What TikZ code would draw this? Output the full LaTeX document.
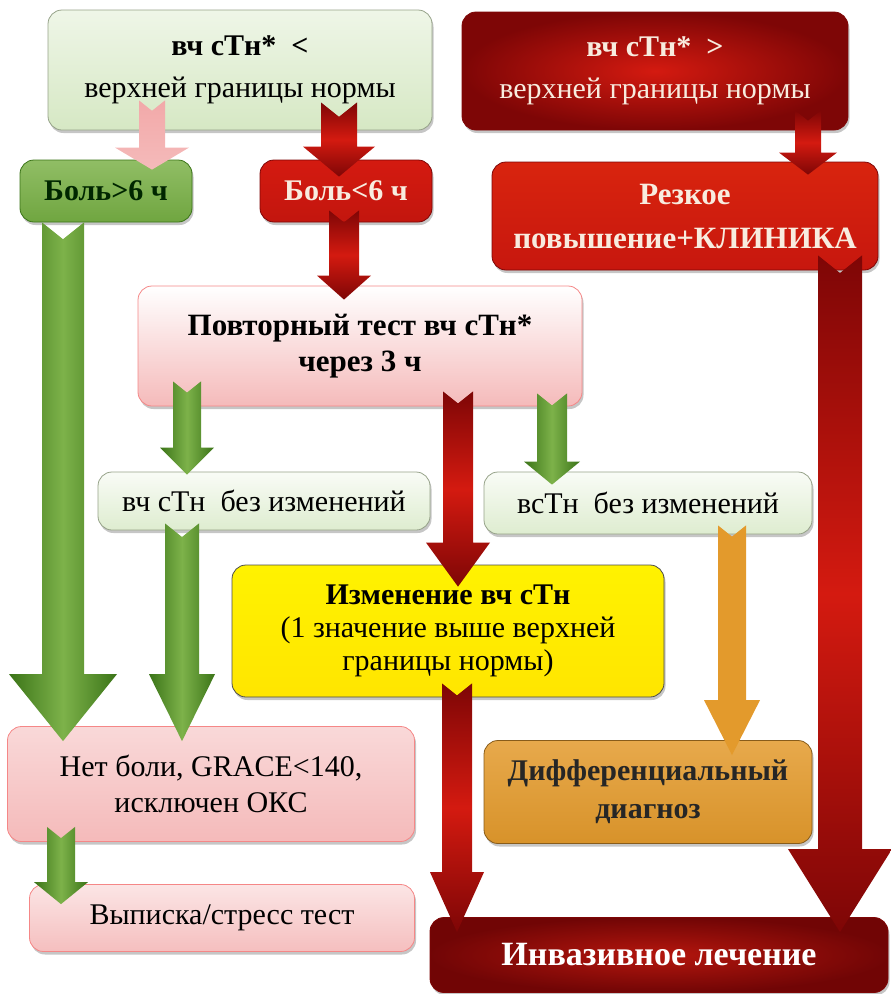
\documentclass[tikz,border=0pt]{standalone}
\usepackage{fontspec}
\setmainfont{Liberation Serif}
\usetikzlibrary{calc}
\usetikzlibrary{shadows}

\definecolor{grnD}{HTML}{3B7418}
\definecolor{grnL}{HTML}{7DB24A}
\definecolor{grnP}{HTML}{D6E8C4}
\definecolor{redD}{HTML}{7E0606}
\definecolor{redM}{HTML}{D41A10}
\definecolor{pinkA}{HTML}{F2A9A9}
\definecolor{orng}{HTML}{E39A2C}
\definecolor{cream}{HTML}{F8ECDF}

\tikzset{
  box/.style={rounded corners=14pt, inner sep=0pt, align=center,
    draw=#1, line width=0.8pt,
    drop shadow={shadow xshift=1.5pt, shadow yshift=-3pt, opacity=0.45},
    font=\fontsize{30}{36}\selectfont},
  fat/.style n args={4}{#4, to path={let \p1=(\tikztostart), \p2=(\tikztotarget) in
    (\x1-#1,\y1) -- (\x1,\y1-0.8*#1) -- (\x1+#1,\y1) -- (\x1+#1,\y2+#3)
    -- (\x1+#2,\y2+#3) -- (\x1,\y2) -- (\x1-#2,\y2+#3) -- (\x1-#1,\y2+#3) -- cycle}},
  garrow/.style={left color=grnD, right color=grnD, middle color=grnL},
  rarrow/.style={top color=redD, bottom color=redD, middle color=redM},
  parrow/.style={top color=pinkA, bottom color=pinkA!80!white},
  oarrow/.style={fill=orng}
}

\begin{document}
\begin{tikzpicture}[x=1pt, y=-1pt]
  \useasboundingbox (0,0) rectangle (891,994);

  % boxes
  \node[box=grnP!70!black, minimum width=384, minimum height=120,
    top color=grnP!40!white, bottom color=grnP,
    font=\fontsize{30}{42}\selectfont] (top1) at (240,70)
    {\textbf{вч сТн*~~<}\\верхней границы нормы};
  \node[box=redD, minimum width=386, minimum height=118, text=cream,
    inner color=redM, outer color=redD, font=\fontsize{30}{42}\selectfont] (top2) at (655,71)
    {\textbf{вч сТн*~~>}\\верхней границы нормы};
  \node[box=grnD, minimum width=172, minimum height=62, text=black!85!green,
    top color=grnL!85!white, bottom color=grnL!80!grnD, font=\fontsize{30}{36}\selectfont\bfseries] (bolg) at (106,191)
    {Боль>6 ч};
  \node[box=redD, minimum width=172, minimum height=62, text=cream,
    top color=redM, bottom color=redM!80!redD, font=\fontsize{30}{36}\selectfont\bfseries] (bolr) at (346,191)
    {Боль<6 ч};
  \node[box=redD, minimum width=386, minimum height=108, text=cream,
    top color=redM!90!orange, bottom color=redM!85!redD, font=\fontsize{31}{44}\selectfont\bfseries] (rez) at (685,216)
    {Резкое\\повышение+КЛИНИКА};
  \node[box=pinkA!80!red, minimum width=444, minimum height=120,
    top color=white, bottom color=pinkA!80!white, font=\fontsize{31}{36}\selectfont\bfseries] (rep) at (360,346)
    {Повторный тест вч сТн*\\через 3 ч};
  \node[box=grnP!70!black, minimum width=332, minimum height=58,
    top color=grnP!15!white, bottom color=grnP!80!white] (nc1) at (264,501)
    {вч сТн~~без изменений};
  \node[box=grnP!70!black, minimum width=328, minimum height=62,
    top color=grnP!15!white, bottom color=grnP!80!white] (nc2) at (648,503)
    {всТн~~без изменений};
  \node[box=black!70, minimum width=432, minimum height=132,
    top color=yellow!90!orange, bottom color=yellow!80!orange, font=\fontsize{30}{33}\selectfont] (chg) at (448,631)
    {\textbf{Изменение вч сТн}\\(1 значение выше верхней\\границы нормы)};
  \node[box=pinkA!80!red, minimum width=407, minimum height=115,
    top color=pinkA!45!white, bottom color=pinkA!80!white] (nopain) at (211,784)
    {Нет боли, GRACE<140,\\исключен ОКС};
  \node[box=pinkA!80!red, minimum width=385, minimum height=67,
    top color=pinkA!30!white, bottom color=pinkA!75!white] (disch) at (222,918)
    {Выписка/стресс тест};
  \node[box=orng!60!black, minimum width=328, minimum height=103,
    top color=orng!85!white, bottom color=orng!95!black, text=black!85,
    font=\fontsize{30}{38}\selectfont\bfseries] (diff) at (648,792)
    {Дифференциальный\\диагноз};
  \node[box=redD, minimum width=458, minimum height=75, text=white,
    inner color=redM!85!black, outer color=redD!90!black,
    font=\fontsize{34}{40}\selectfont\bfseries] (inv) at (659,955)
    {Инвазивное лечение};

  % arrows
  \path[fat={13pt}{37pt}{22pt}{parrow}] ([xshift=-88pt,yshift=30pt]top1.south) to ([yshift=-10pt]bolg.north);
  \path[fat={18pt}{36pt}{30pt}{rarrow}] ([xshift=99pt,yshift=28pt]top1.south) to ([yshift=-17pt]bolr.north);
  \path[fat={15pt}{27pt}{24pt}{rarrow}] ([xshift=-2pt,yshift=12pt]bolr.south) to ([yshift=-14pt]rep.north);
  \path[fat={13pt}{29pt}{22pt}{rarrow}] ([xshift=153pt,yshift=20pt]top2.south) to ([yshift=-13pt]rez.north);
  \path[fat={21pt}{54pt}{67pt}{garrow}] ([xshift=-43pt]bolg.south) to ([yshift=-15pt]nopain.north);
  \path[fat={14pt}{27pt}{27pt}{garrow}] ([xshift=-173pt,yshift=25pt]rep.south) to ([yshift=-3pt]nc1.north);
  \path[fat={17pt}{33pt}{67pt}{garrow}] ([xshift=-82pt,yshift=7pt]nc1.south) to ([yshift=-15pt]nopain.north);
  \path[fat={15pt}{32pt}{44pt}{rarrow}] ([xshift=98pt,yshift=15pt]rep.south) to ([yshift=-22pt]chg.north);
  \path[fat={15pt}{28pt}{23pt}{garrow}] ([xshift=192pt,yshift=13pt]rep.south) to ([yshift=-13pt]nc2.north);
  \path[fat={14pt}{28pt}{55pt}{oarrow}] ([xshift=84pt,yshift=9pt]nc2.south) to ([yshift=-15pt]diff.north);
  \path[fat={15pt}{27pt}{60pt}{rarrow}] ([xshift=9pt,yshift=14pt]chg.south) to ([yshift=-15pt]inv.north);
  \path[fat={22pt}{52pt}{83pt}{rarrow}] ([xshift=155pt,yshift=15pt]rez.south) to ([yshift=-15pt]inv.north);
  \path[fat={14pt}{27pt}{22pt}{garrow}] ([xshift=-150pt,yshift=15pt]nopain.south) to ([yshift=-20pt]disch.north);
\end{tikzpicture}
\end{document}
